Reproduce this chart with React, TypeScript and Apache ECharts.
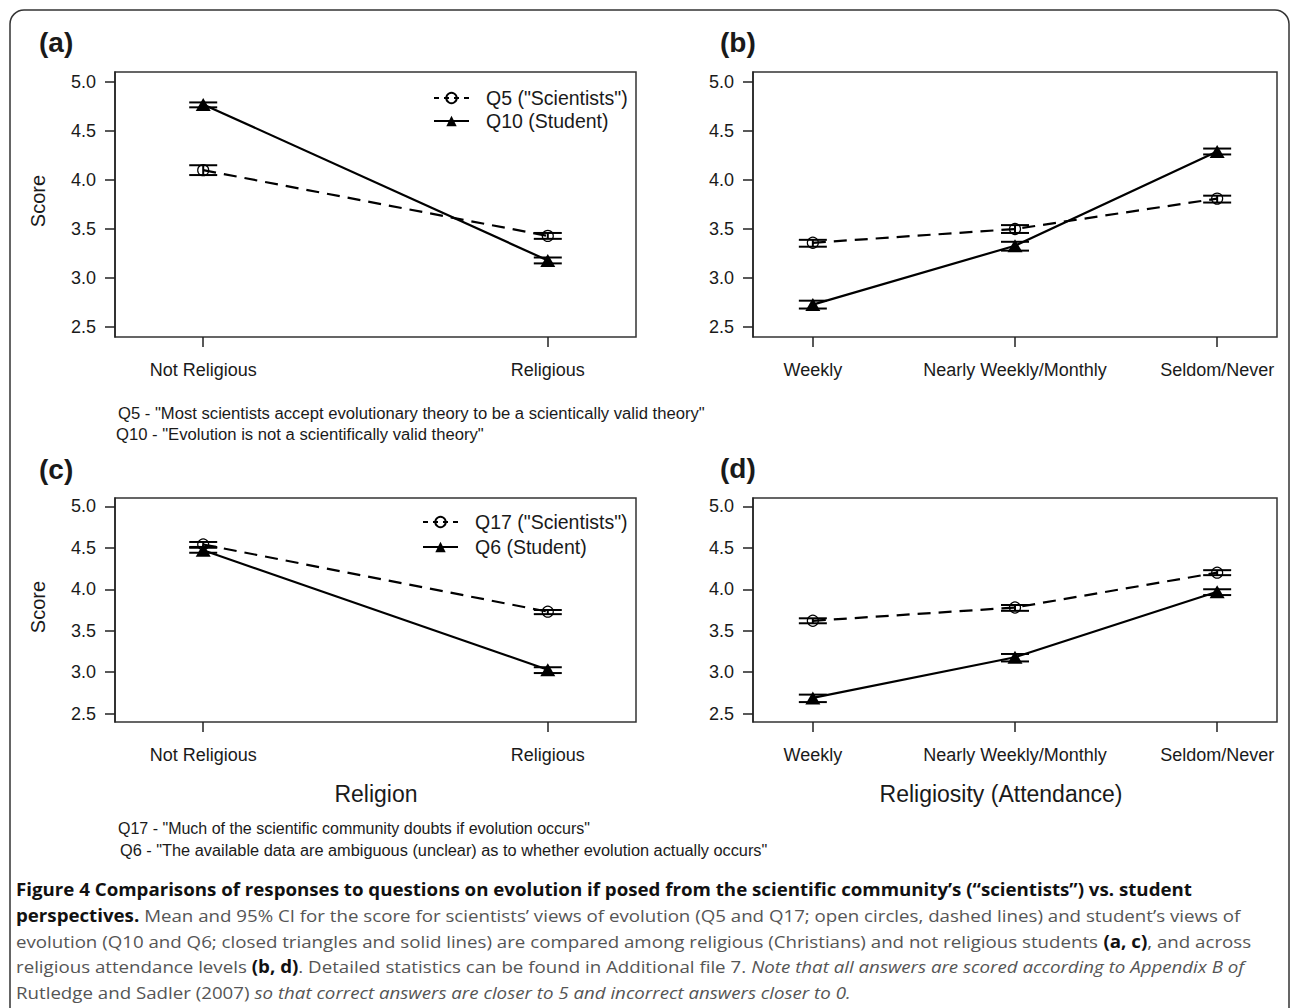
import React, { useEffect, useRef } from "react";
import * as echarts from "echarts";

// ---------- data ----------
const religionCats = ["Not Religious", "Religious"];
const attendanceCats = ["Weekly", "Nearly Weekly/Monthly", "Seldom/Never"];
const yTicks = [2.5, 3.0, 3.5, 4.0, 4.5, 5.0];

// (a) Q5 ("Scientists") and Q10 (Student) by religion
const aSciMean = [4.1, 3.43];
const aSciLo = [4.05, 3.4];
const aSciHi = [4.15, 3.46];
const aStuMean = [4.77, 3.18];
const aStuLo = [4.74, 3.15];
const aStuHi = [4.79, 3.21];

// (b) Q5 / Q10 by attendance
const bSciMean = [3.36, 3.5, 3.81];
const bSciLo = [3.32, 3.46, 3.77];
const bSciHi = [3.39, 3.54, 3.84];
const bStuMean = [2.73, 3.33, 4.29];
const bStuLo = [2.69, 3.28, 4.26];
const bStuHi = [2.77, 3.37, 4.32];

// (c) Q17 ("Scientists") and Q6 (Student) by religion
const cSciMean = [4.54, 3.73];
const cSciLo = [4.51, 3.7];
const cSciHi = [4.57, 3.75];
const cStuMean = [4.47, 3.03];
const cStuLo = [4.44, 2.99];
const cStuHi = [4.5, 3.06];

// (d) Q17 / Q6 by attendance
const dSciMean = [3.62, 3.78, 4.2];
const dSciLo = [3.59, 3.74, 4.17];
const dSciHi = [3.65, 3.81, 4.23];
const dStuMean = [2.69, 3.18, 3.97];
const dStuLo = [2.64, 3.13, 3.93];
const dStuHi = [2.73, 3.22, 4.0];

const legendA = ['Q5 ("Scientists")', "Q10 (Student)"];
const legendC = ['Q17 ("Scientists")', "Q6 (Student)"];

// ---------- helpers ----------
const FONT = "Liberation Sans";
const INK = "#1a1a1a";

function errBars(name: string, idx: number, lo: number[], hi: number[]) {
  return {
    type: "custom",
    name,
    xAxisIndex: idx,
    yAxisIndex: idx,
    z: 3,
    silent: true,
    data: lo.map((l, i) => [i + 1, l, hi[i]]),
    renderItem: (params: any, api: any) => {
      const x = api.value(0);
      const pLo = api.coord([x, api.value(1)]);
      const pHi = api.coord([x, api.value(2)]);
      const w = 14;
      const style = { stroke: "#000", lineWidth: 2 };
      return {
        type: "group",
        children: [
          { type: "line", shape: { x1: pLo[0], y1: pLo[1], x2: pHi[0], y2: pHi[1] }, style },
          { type: "line", shape: { x1: pLo[0] - w, y1: pLo[1], x2: pLo[0] + w, y2: pLo[1] }, style },
          { type: "line", shape: { x1: pHi[0] - w, y1: pHi[1], x2: pHi[0] + w, y2: pHi[1] }, style },
        ],
      };
    },
  };
}

function sciLine(name: string, idx: number, mean: number[]) {
  return {
    type: "line",
    name,
    xAxisIndex: idx,
    yAxisIndex: idx,
    z: 4,
    data: mean.map((m, i) => [i + 1, m]),
    symbol: "circle",
    symbolSize: 11,
    itemStyle: { color: "rgba(255,255,255,0)", borderColor: "#000", borderWidth: 1.2 },
    lineStyle: { color: "#000", width: 2.2, type: [13, 8] },
  };
}

function stuLine(name: string, idx: number, mean: number[]) {
  return {
    type: "line",
    name,
    xAxisIndex: idx,
    yAxisIndex: idx,
    z: 4,
    data: mean.map((m, i) => [i + 1, m]),
    symbol: "triangle",
    symbolSize: [15, 13],
    itemStyle: { color: "#000" },
    lineStyle: { color: "#000", width: 2.2, type: "solid" },
  };
}

function xAxisFor(idx: number, cats: string[]) {
  const n = cats.length;
  const span = n - 1 + 0.4;
  return {
    type: "value",
    gridIndex: idx,
    min: 0.8 - span * 0.04,
    max: n + 0.2 + span * 0.04,
    axisLine: { show: false },
    splitLine: { show: false },
    axisTick: {
      show: true,
      length: 10,
      customValues: cats.map((_, i) => i + 1),
      lineStyle: { color: "#222", width: 1.5 },
    },
    axisLabel: {
      show: true,
      margin: 24,
      customValues: cats.map((_, i) => i + 1),
      formatter: (v: number) => cats[Math.round(v) - 1] ?? "",
      fontFamily: FONT,
      fontSize: 18,
      color: INK,
    },
  };
}

function yAxisFor(idx: number) {
  return {
    type: "value",
    gridIndex: idx,
    min: 2.4,
    max: 5.1,
    axisLine: { show: true, lineStyle: { color: "#222", width: 1.5 } },
    splitLine: { show: false },
    axisTick: { show: true, length: 10, customValues: yTicks, lineStyle: { color: "#222", width: 1.5 } },
    axisLabel: {
      show: true,
      margin: 19,
      customValues: yTicks,
      formatter: (v: number) => v.toFixed(1),
      fontFamily: FONT,
      fontSize: 18,
      color: INK,
    },
  };
}

function legendFor(names: string[], left: number, top: number, gap: number) {
  return {
    data: [
      { name: names[0], lineStyle: { type: [5, 5] } },
      { name: names[1] },
    ],
    orient: "vertical",
    left,
    top,
    padding: 0,
    itemWidth: 35,
    itemHeight: 13,
    itemGap: gap,
    selectedMode: false,
    textStyle: { fontFamily: FONT, fontSize: 19.5, color: INK, padding: [0, 0, 0, 12] },
  };
}

function txt(text: string, x: number, y: number, font: string, extra: any = {}, sx = 1) {
  return {
    type: "text",
    x,
    y,
    scaleX: sx,
    silent: true,
    style: { text, font, fill: INK, textVerticalAlign: "middle", ...extra },
  };
}

const CAP = 17;
const captionRich = {
  b: { fontFamily: "Open Sans", fontWeight: "bold", fontSize: CAP, fill: "#111", color: "#111" },
  n: { fontFamily: "Open Sans", fontSize: CAP, fill: "#555", color: "#555" },
  i: { fontFamily: "Open Sans", fontStyle: "italic", fontSize: CAP, fill: "#555", color: "#555" },
};

const captionLines = [
  "{b|Figure 4 Comparisons of responses to questions on evolution if posed from the scientific community’s (“scientists”) vs. student}",
  "{b|perspectives.}{n| Mean and 95% CI for the score for scientists’ views of evolution (Q5 and Q17; open circles, dashed lines) and student’s views of}",
  "{n|evolution (Q10 and Q6; closed triangles and solid lines) are compared among religious (Christians) and not religious students }{b|(a, c)}{n|, and across}",
  "{n|religious attendance levels }{b|(b, d)}{n|. Detailed statistics can be found in Additional file 7. }{i|Note that all answers are scored according to Appendix B of}",
  "{n|Rutledge and Sadler (2007) }{i|so that correct answers are closer to 5 and incorrect answers closer to 0.}",
];
const captionY = [889, 915, 941, 966, 992];

export default function App() {
  const ref = useRef<HTMLDivElement>(null);
  useEffect(() => {
    if (!ref.current) return;
    const chart = echarts.init(ref.current, undefined, { renderer: "svg" });
    const grids = [
      { left: 115, top: 72, width: 521, height: 265 },
      { left: 753, top: 72, width: 524, height: 265 },
      { left: 115, top: 498, width: 521, height: 224 },
      { left: 753, top: 498, width: 524, height: 224 },
    ].map((g) => ({ ...g, show: true, borderColor: "#333", borderWidth: 1.5, backgroundColor: "transparent" }));

    const graphic: any[] = [
      {
        type: "rect",
        silent: true,
        shape: { x: 10, y: 10, width: 1279, height: 1030, r: 14 },
        style: { fill: "none", stroke: "#333", lineWidth: 1.5 },
        z: -10,
      },
      txt("(a)", 39, 42, `bold 28px ${FONT}`),
      txt("(b)", 720, 42, `bold 28px ${FONT}`),
      txt("(c)", 39, 469, `bold 28px ${FONT}`),
      txt("(d)", 720, 468, `bold 28px ${FONT}`),
      { ...txt("Score", 0, 0, `20px ${FONT}`, { textAlign: "center" }), x: 38, y: 201, rotation: Math.PI / 2 },
      { ...txt("Score", 0, 0, `20px ${FONT}`, { textAlign: "center" }), x: 38, y: 607, rotation: Math.PI / 2 },
      txt("Religion", 376, 794, `23px ${FONT}`, { textAlign: "center" }),
      txt("Religiosity (Attendance)", 1001, 794, `23px ${FONT}`, { textAlign: "center" }),
      txt('Q5 - "Most scientists accept evolutionary theory to be a scientically valid theory"', 118, 413, `16px ${FONT}`, {}, 1.04),
      txt('Q10 - "Evolution is not a scientifically valid theory"', 116, 434, `16px ${FONT}`, {}, 1.04),
      txt('Q17 - "Much of the scientific community doubts if evolution occurs"', 118, 828, `16px ${FONT}`, {}, 1.0),
      txt('Q6 - "The available data are ambiguous (unclear) as to whether evolution actually occurs"', 120, 850, `16px ${FONT}`, {}, 1.02),
      ...captionLines.map((line, i) => ({
        type: "text",
        x: 16,
        y: captionY[i],
        scaleX: 1.1,
        silent: true,
        style: { text: line, rich: captionRich, textVerticalAlign: "middle", font: `${CAP}px Open Sans`, fill: "#555" },
      })),
    ];

    chart.setOption({
      animation: false,
      backgroundColor: "#fff",
      grid: grids,
      xAxis: [xAxisFor(0, religionCats), xAxisFor(1, attendanceCats), xAxisFor(2, religionCats), xAxisFor(3, attendanceCats)],
      yAxis: [yAxisFor(0), yAxisFor(1), yAxisFor(2), yAxisFor(3)],
      legend: [legendFor(legendA, 433, 88, 3), legendFor(legendC, 422, 512, 5)],
      series: [
        sciLine(legendA[0], 0, aSciMean),
        stuLine(legendA[1], 0, aStuMean),
        errBars("a-sci-ci", 0, aSciLo, aSciHi),
        errBars("a-stu-ci", 0, aStuLo, aStuHi),
        sciLine("b-sci", 1, bSciMean),
        stuLine("b-stu", 1, bStuMean),
        errBars("b-sci-ci", 1, bSciLo, bSciHi),
        errBars("b-stu-ci", 1, bStuLo, bStuHi),
        sciLine(legendC[0], 2, cSciMean),
        stuLine(legendC[1], 2, cStuMean),
        errBars("c-sci-ci", 2, cSciLo, cSciHi),
        errBars("c-stu-ci", 2, cStuLo, cStuHi),
        sciLine("d-sci", 3, dSciMean),
        stuLine("d-stu", 3, dStuMean),
        errBars("d-sci-ci", 3, dSciLo, dSciHi),
        errBars("d-stu-ci", 3, dStuLo, dStuHi),
      ],
      graphic,
    });
    return () => chart.dispose();
  }, []);
  return (
    <div
      ref={ref}
      style={{ position: "absolute", left: 0, top: 0, width: 1295, height: 1008, background: "#fff" }}
    />
  );
}
